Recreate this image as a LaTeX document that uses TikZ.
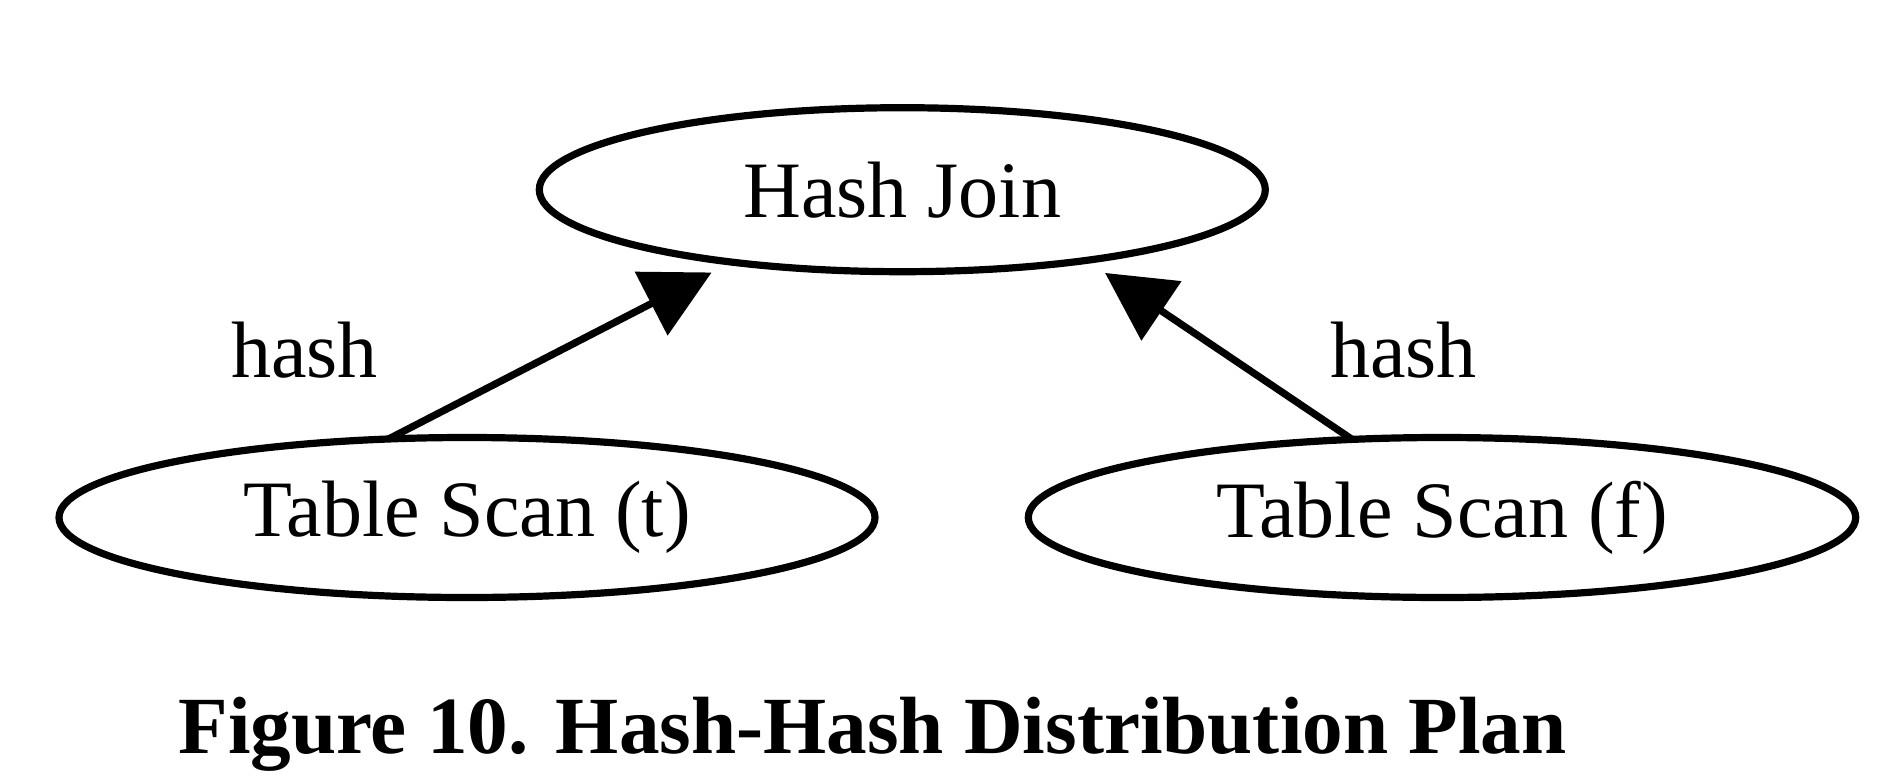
\documentclass[tikz,border=0pt]{standalone}
\usepackage{fontspec}
\setmainfont{Liberation Serif}
\usetikzlibrary{shapes.geometric,arrows.meta}
\begin{document}
\begin{tikzpicture}[x=0.5pt,y=-0.5pt,
  opnode/.style={ellipse, draw, line width=3.6pt, inner sep=0pt, outer sep=0pt,
                 font=\fontsize{40}{48}\selectfont},
  edge/.style={line width=3.6pt, -{Triangle[length=34pt,width=35pt]}},
  lbl/.style={anchor=base, inner sep=0pt, font=\fontsize{40}{48}\selectfont},
  caption/.style={anchor=base, inner sep=0pt, font=\fontsize{40.6}{48}\selectfont\bfseries}]
\useasboundingbox (0,0) rectangle (1894,776);
\node[opnode, minimum width=363pt, minimum height=82pt] (hj) at (902.3,189.7) {Hash Join};
\node[opnode, minimum width=408pt, minimum height=80pt] (ts1) at (467,517.5) {Table Scan (t)};
\node[opnode, minimum width=413.7pt, minimum height=80pt] (ts2) at (1442,517.5) {Table Scan (f)};
\draw[edge, shorten >=11.35pt] (ts1.135.4) -- (hj.203.4);
\draw[edge, shorten >=11.25pt] (ts2.139.76) -- (hj.339.47);
\node[lbl] (l1) at (304.5,377) {hash};
\node[lbl] (l2) at (1403.5,377) {hash};
\node[caption] (cap) at (872.5,753) {Figure 10. Hash-Hash Distribution Plan};
\end{tikzpicture}
\end{document}
